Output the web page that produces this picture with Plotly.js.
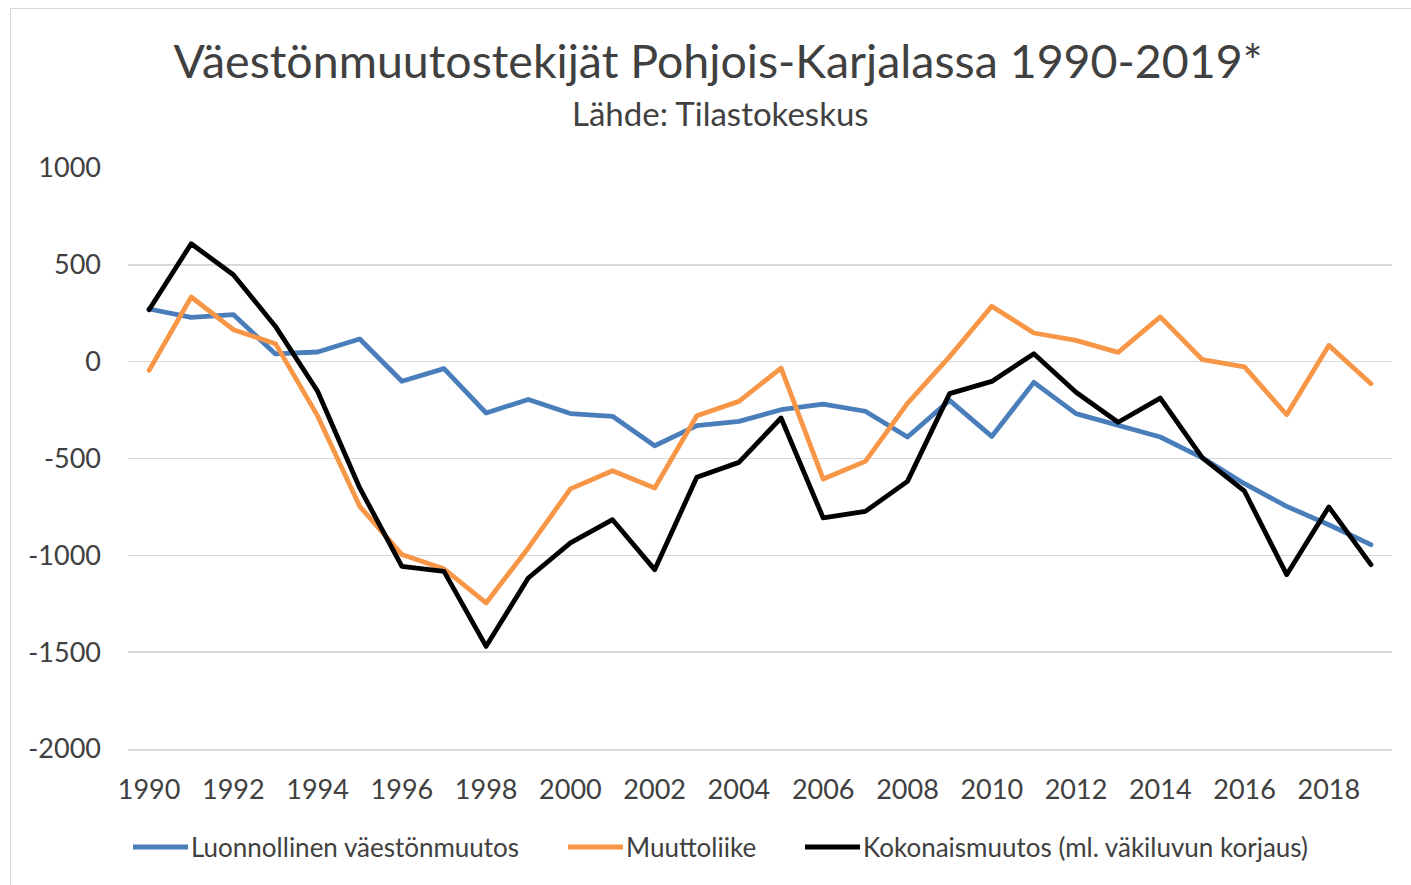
<!DOCTYPE html>
<html>
<head>
<meta charset="utf-8">
<script src="https://cdn.plot.ly/plotly-3.0.1.min.js"></script>
<style>
  html, body { margin: 0; padding: 0; background: #fff; }
  #wrap { position: relative; width: 1411px; height: 885px; overflow: hidden; }
  #chart { width: 1411px; height: 885px; }
  #frame { position: absolute; left: 10px; top: 8px; width: 1500px; height: 1000px;
           border: 1.5px solid #d9d9d9; pointer-events: none; box-sizing: border-box; }
  .js-line { stroke-linejoin: round; stroke-linecap: round; }
</style>
</head>
<body>
<div id="wrap">
  <div id="chart"></div>
  <div id="frame"></div>
</div>
<script>
const years = [1990,1991,1992,1993,1994,1995,1996,1997,1998,1999,2000,2001,2002,2003,2004,2005,2006,2007,2008,2009,2010,2011,2012,2013,2014,2015,2016,2017,2018,2019];
const luonnollinen = [272,229,243,40,50,117,-101,-36,-265,-195,-268,-282,-434,-330,-308,-248,-219,-256,-389,-200,-386,-107,-268,-330,-389,-497,-630,-747,-842,-945];
const muuttoliike = [-45,334,165,93,-280,-747,-996,-1070,-1246,-962,-657,-563,-652,-279,-205,-33,-606,-515,-215,26,286,148,110,48,231,10,-27,-274,84,-114];
const kokonais = [268,609,449,182,-153,-652,-1057,-1083,-1470,-1117,-936,-816,-1074,-597,-520,-291,-807,-773,-618,-165,-102,41,-158,-313,-188,-497,-669,-1100,-750,-1048];
const xTicks = [1990,1992,1994,1996,1998,2000,2002,2004,2006,2008,2010,2012,2014,2016,2018];
const yTicks = [-2000,-1500,-1000,-500,0,500,1000];
const yTickLabels = ["-2000","-1500","-1000","-500","0","500","1000"];
const seriesNames = ["Luonnollinen väestönmuutos", "Muuttoliike", "Kokonaismuutos (ml. väkiluvun korjaus)"];
const seriesColors = ["#4a7ebb", "#f79646", "#000000"];
const titleText = "Väestönmuutostekijät Pohjois-Karjalassa 1990-2019*";
const subtitleText = "Lähde: Tilastokeskus";

const FONT = "Lato, 'Open Sans', sans-serif";
const allSeries = [luonnollinen, muuttoliike, kokonais];

const traces = allSeries.map((vals, i) => ({
  type: "scatter", mode: "lines", x: years, y: vals, name: seriesNames[i],
  line: { color: seriesColors[i], width: 4.8 }, showlegend: false
}));

// custom legend (line sample + label), positioned in paper coords
const L = 128, W = 1264, B = 749, H = 581;
const px = v => (v - L) / W;
const py = v => (B - v) / H;
const legendY = 847;
const legendItems = [
  { x0: 133, x1: 188, tx: 189 },
  { x0: 568, x1: 623, tx: 624 },
  { x0: 805, x1: 860, tx: 861 }
];
const shapes = legendItems.map((it, i) => ({
  type: "line", xref: "paper", yref: "paper",
  x0: px(it.x0), x1: px(it.x1), y0: py(legendY), y1: py(legendY),
  line: { color: seriesColors[i], width: 5 }
}));
const annotations = legendItems.map((it, i) => ({
  xref: "paper", yref: "paper", x: px(it.tx), y: py(legendY),
  xanchor: "left", yanchor: "middle", showarrow: false,
  text: seriesNames[i], font: { family: FONT, size: 26, color: "#404040" }
}));
annotations.push({
  xref: "paper", yref: "paper", x: px(720), y: py(113),
  xanchor: "center", yanchor: "middle", showarrow: false,
  text: subtitleText, font: { family: FONT, size: 33, color: "#404040" }
});

const layout = {
  width: 1411, height: 885,
  margin: { l: L, r: 1411 - L - W, t: B - H, b: 885 - B, pad: 0 },
  paper_bgcolor: "#ffffff", plot_bgcolor: "#ffffff",
  font: { family: FONT, color: "#404040" },
  title: {
    text: titleText, font: { family: FONT, size: 46.5, color: "#404040" },
    xref: "container", yref: "container", x: 718 / 1411, y: 1 - 62 / 885,
    xanchor: "center", yanchor: "middle"
  },
  xaxis: {
    range: [1989.5, 2019.5], tickmode: "array", tickvals: xTicks,
    ticktext: xTicks.map(String), showgrid: false, zeroline: false,
    showline: true, linecolor: "#d9d9d9", linewidth: 1.5,
    ticks: "", ticklabelstandoff: 16,
    tickfont: { family: FONT, size: 27, color: "#404040" }
  },
  yaxis: {
    range: [-2000, 1000], tickmode: "array", tickvals: yTicks, ticktext: yTickLabels,
    showgrid: true, gridcolor: "#d9d9d9", gridwidth: 1.5, zeroline: false,
    showline: false, ticks: "", ticklabelstandoff: 26,
    tickfont: { family: FONT, size: 27, color: "#404040" }
  },
  shapes: shapes,
  annotations: annotations,
  showlegend: false
};

Plotly.newPlot("chart", traces, layout, { displayModeBar: false, staticPlot: true });
</script>
</body>
</html>
